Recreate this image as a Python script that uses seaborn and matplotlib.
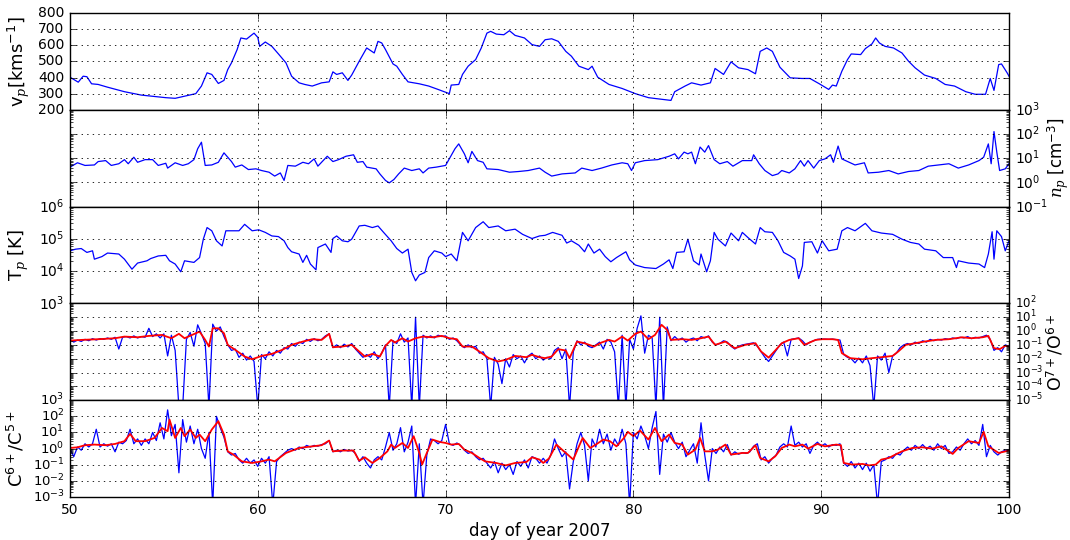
import numpy as np
import pandas as pd
import matplotlib
matplotlib.use("Agg")
import matplotlib.pyplot as plt
import seaborn as sns
from matplotlib.ticker import FixedLocator, LogLocator, NullFormatter, LogFormatterSciNotation

# ---------------- data ----------------
vp_day = [50.0, 50.44, 50.7, 50.9, 51.15, 51.5, 52.0, 52.9, 53.8, 55.1,
          55.6, 56.7, 57.0, 57.3, 57.55, 57.9, 58.2, 58.4, 58.6, 58.9,
          59.1, 59.4, 59.8, 60.0, 60.1, 60.4, 60.75, 61.1, 61.5, 61.8,
          62.2, 62.5, 62.9, 63.4, 63.8, 64.0, 64.2, 64.5, 64.8, 65.0,
          65.4, 65.6, 65.8, 66.2, 66.4, 66.6, 66.8, 67.2, 67.4, 67.7,
          68.0, 68.6, 69.1, 69.6, 70.2, 70.3, 70.7, 70.9, 71.2, 71.6,
          71.9, 72.2, 72.4, 72.7, 73.1, 73.4, 73.7, 74.2, 74.6, 75.0,
          75.3, 75.65, 76.0, 76.4, 76.7, 77.1, 77.6, 77.8, 78.1, 78.7,
          79.4, 80.1, 80.8, 81.5, 82.0, 82.2, 82.75, 83.1, 83.6, 84.1,
          84.35, 84.8, 85.2, 85.6, 86.1, 86.5, 86.75, 87.1, 87.4, 87.8,
          88.35, 88.97, 89.4, 89.9, 90.4, 90.6, 90.8, 91.1, 91.4, 91.6,
          92.1, 92.35, 92.7, 92.9, 93.1, 93.4, 93.85, 94.3, 94.65, 95.0,
          95.5, 96.1, 96.6, 97.1, 97.7, 98.2, 98.75, 99.0, 99.2, 99.45,
          99.6, 99.9, 100.0]
vp_kms = [402, 371, 408, 405, 361, 357, 340, 312, 291, 275,
          271, 300, 347, 429, 419, 363, 382, 449, 491, 573,
          645, 638, 675, 649, 593, 620, 593, 546, 491, 408,
          367, 357, 347, 367, 373, 435, 419, 429, 382, 415,
          501, 542, 583, 552, 624, 614, 573, 484, 470, 419,
          373, 361, 347, 326, 300, 353, 357, 419, 470, 511,
          583, 675, 686, 669, 665, 690, 661, 645, 604, 593,
          634, 640, 624, 562, 532, 470, 449, 470, 402, 357,
          332, 300, 275, 265, 258, 312, 347, 367, 353, 367,
          456, 419, 497, 460, 449, 423, 562, 583, 562, 464,
          398, 394, 394, 361, 326, 353, 347, 439, 511, 546,
          542, 579, 608, 645, 614, 593, 583, 552, 501, 460,
          415, 394, 357, 347, 312, 296, 296, 394, 320, 480,
          484, 429, 408]

np_day = [50.0, 50.4, 50.8, 51.3, 51.5, 51.9, 52.2, 52.6, 52.9, 53.1,
          53.4, 53.6, 54.0, 54.4, 54.7, 55.1, 55.2, 55.6, 56.0, 56.3,
          56.6, 56.8, 57.0, 57.2, 57.55, 57.9, 58.2, 58.4, 58.6, 58.8,
          59.15, 59.5, 59.9, 60.2, 60.6, 60.9, 61.2, 61.4, 61.6, 62.0,
          62.4, 62.7, 63.0, 63.2, 63.7, 64.0, 64.3, 64.7, 65.1, 65.3,
          65.6, 65.8, 66.3, 66.5, 66.8, 67.0, 67.25, 67.5, 67.8, 68.2,
          68.6, 68.8, 69.1, 69.5, 70.0, 70.3, 70.5, 70.7, 71.0, 71.2,
          71.4, 71.7, 72.0, 72.2, 72.8, 73.4, 73.9, 74.4, 75.0, 75.3,
          75.65, 76.2, 76.9, 77.25, 77.8, 78.3, 78.85, 79.4, 79.7, 79.9,
          80.1, 80.6, 81.3, 81.9, 82.2, 82.4, 82.7, 82.9, 83.1, 83.3,
          83.55, 83.8, 84.0, 84.3, 84.6, 85.0, 85.3, 85.8, 86.3, 86.4,
          86.7, 87.0, 87.4, 87.7, 87.9, 88.3, 88.6, 88.9, 89.1, 89.3,
          89.6, 89.9, 90.2, 90.5, 90.65, 90.9, 91.1, 91.5, 91.8, 92.3,
          92.5, 93.05, 93.6, 94.1, 94.65, 95.2, 95.7, 96.25, 96.8, 97.3,
          97.85, 98.4, 98.65, 98.9, 99.05, 99.2, 99.35, 99.5, 99.8, 100.0]
np_log10 = [0.63, 0.81, 0.70, 0.72, 0.86, 0.90, 0.70, 0.77, 0.94, 0.77,
            1.04, 0.83, 0.94, 0.94, 0.70, 0.79, 0.59, 0.81, 0.70, 0.77,
            0.94, 1.39, 1.66, 0.70, 0.72, 0.83, 1.22, 1.04, 0.86, 0.63,
            0.72, 0.53, 0.56, 0.49, 0.42, 0.26, 0.39, 0.08, 0.70, 0.67,
            0.83, 0.77, 0.97, 0.67, 1.08, 0.86, 0.94, 1.08, 1.14, 0.83,
            0.86, 0.63, 0.56, 0.35, 0.08, -0.02, 0.12, 0.35, 0.59, 0.49,
            0.56, 0.39, 0.59, 0.63, 0.70, 1.11, 1.39, 1.59, 1.18, 0.81,
            1.28, 0.90, 0.83, 0.56, 0.53, 0.42, 0.45, 0.49, 0.59, 0.42,
            0.26, 0.35, 0.39, 0.59, 0.49, 0.59, 0.72, 0.81, 0.77, 0.49,
            0.81, 0.90, 0.94, 1.08, 1.18, 0.97, 1.25, 1.18, 1.25, 0.77,
            1.46, 1.25, 1.52, 0.94, 0.77, 0.86, 0.67, 0.90, 0.90, 1.14,
            0.77, 0.49, 0.28, 0.35, 0.49, 0.39, 0.56, 0.90, 0.67, 0.90,
            0.59, 0.90, 0.97, 1.14, 0.83, 1.50, 0.97, 0.83, 0.72, 0.81,
            0.39, 0.42, 0.49, 0.35, 0.45, 0.49, 0.67, 0.72, 0.77, 0.59,
            0.72, 0.90, 1.04, 1.59, 0.77, 2.10, 1.25, 0.49, 0.56, 0.77]

tp_day = [50.0, 50.3, 50.6, 50.9, 51.2, 51.3, 51.7, 52.0, 52.6, 52.9,
          53.3, 53.6, 54.1, 54.3, 54.7, 55.1, 55.3, 55.6, 55.9, 56.1,
          56.6, 56.9, 57.1, 57.3, 57.55, 57.8, 58.1, 58.3, 58.6, 59.0,
          59.3, 59.7, 60.05, 60.4, 60.75, 61.1, 61.4, 61.6, 61.8, 62.2,
          62.4, 62.6, 62.8, 63.1, 63.2, 63.6, 63.9, 64.0, 64.2, 64.5,
          64.8, 65.0, 65.4, 65.7, 66.1, 66.4, 66.7, 67.1, 67.4, 67.7,
          68.0, 68.2, 68.4, 68.6, 68.9, 69.1, 69.4, 69.8, 70.0, 70.3,
          70.6, 70.9, 71.2, 71.6, 72.0, 72.3, 72.8, 73.2, 73.7, 74.1,
          74.6, 75.0, 75.3, 75.7, 76.2, 76.45, 76.7, 77.1, 77.4, 77.6,
          77.9, 78.2, 78.5, 78.8, 79.1, 79.6, 79.8, 80.1, 80.6, 81.2,
          81.6, 81.9, 82.1, 82.3, 82.7, 82.9, 83.2, 83.5, 83.6, 83.9,
          84.1, 84.3, 84.5, 84.9, 85.2, 85.6, 85.8, 86.1, 86.5, 86.75,
          87.0, 87.4, 87.7, 88.0, 88.35, 88.6, 88.8, 89.0, 89.1, 89.5,
          89.8, 90.05, 90.4, 90.85, 91.1, 91.4, 91.8, 92.35, 92.7, 93.2,
          93.8, 94.3, 94.75, 95.2, 95.5, 96.1, 96.5, 97.0, 97.2, 97.3,
          97.85, 98.4, 98.7, 98.9, 99.1, 99.2, 99.35, 99.6, 99.8, 100.0]
tp_log10 = [4.63, 4.68, 4.70, 4.58, 4.63, 4.37, 4.45, 4.56, 4.53, 4.37,
            4.06, 4.25, 4.32, 4.39, 4.47, 4.49, 4.32, 4.22, 3.98, 4.32,
            4.27, 4.42, 4.99, 5.35, 5.25, 4.94, 4.78, 5.25, 5.25, 5.25,
            5.45, 5.25, 5.28, 5.20, 5.09, 5.07, 4.94, 4.73, 4.60, 4.53,
            4.27, 4.49, 4.22, 4.04, 4.73, 4.84, 4.58, 5.01, 5.09, 4.94,
            4.91, 4.99, 5.40, 5.42, 5.35, 5.40, 5.20, 4.94, 4.70, 4.56,
            4.68, 3.96, 3.70, 3.88, 3.96, 4.42, 4.63, 4.56, 4.45, 4.53,
            4.32, 5.20, 4.94, 5.35, 5.53, 5.35, 5.40, 5.25, 5.30, 5.14,
            5.01, 5.09, 5.11, 5.20, 5.11, 4.87, 4.94, 4.80, 4.60, 4.84,
            4.56, 4.68, 4.45, 4.29, 4.42, 4.60, 4.35, 4.19, 4.11, 4.08,
            4.22, 4.35, 4.08, 4.58, 4.60, 4.99, 4.32, 4.19, 4.53, 3.98,
            4.32, 5.20, 4.99, 4.78, 5.18, 4.94, 5.20, 5.04, 4.84, 5.35,
            5.22, 5.20, 4.94, 4.58, 4.47, 4.37, 3.77, 4.16, 4.89, 4.91,
            4.56, 4.94, 4.63, 4.68, 5.25, 5.35, 5.25, 5.48, 5.25, 5.18,
            5.14, 4.99, 4.89, 4.84, 4.68, 4.63, 4.42, 4.42, 4.11, 4.32,
            4.25, 4.22, 4.11, 4.53, 5.22, 4.37, 5.25, 5.07, 4.63, 4.94]

# O7+/O6+ : raw (blue) sampled every 0.2 day from day 50, one row per day
o_raw_log10 = [
    -0.60, -0.80, -0.65, -0.75, -0.60,
    -0.70, -0.55, -0.65, -0.55, -0.60,
    -0.50, -0.60, -0.45, -1.30, -0.45,
    -0.40, -0.50, -0.35, -0.50, -0.40,
    -0.45, 0.20, -0.40, -0.20, -0.50,
    -0.20, -1.80, -0.30, -1.40, -5.50,
    -5.50, -0.60, -0.10, -1.10, 0.45,
    -0.20, -0.90, -5.50, 0.50, 0.00,
    0.30, -0.40, -1.00, -1.40, -1.30,
    -1.90, -1.60, -2.10, -1.80, -2.20,
    -5.50, -1.70, -2.00, -1.50, -1.80,
    -1.40, -1.60, -1.20, -1.30, -0.90,
    -1.10, -0.80, -0.90, -0.60, -0.75,
    -0.55, -0.70, -0.60, -0.35, -0.20,
    -1.20, -1.00, -1.20, -0.95, -1.15,
    -0.90, -1.30, -1.60, -1.90, -1.70,
    -1.90, -1.50, -2.00, -1.60, -1.00,
    -5.50, -0.70, -0.90, -0.20, -0.80,
    -0.50, -5.50, 1.00, -5.50, -0.30,
    -0.50, -0.35, -0.50, -0.30, -0.40,
    -0.35, -0.60, -0.50, -0.70, -1.00,
    -1.20, -1.00, -1.20, -1.10, -1.60,
    -1.50, -2.00, -5.50, -1.90, -2.40,
    -3.80, -2.00, -2.60, -1.70, -2.00,
    -1.80, -2.30, -1.80, -1.60, -2.00,
    -1.80, -2.10, -1.90, -2.00, -1.40,
    -1.20, -2.00, -1.30, -5.50, -1.50,
    -0.70, -1.00, -0.80, -1.10, -1.20,
    -1.00, -0.80, -1.30, -0.60, -0.80,
    -1.50, -5.50, -0.30, -5.50, -0.60,
    -1.30, 0.20, 1.10, -1.60, -0.30,
    -0.50, -5.50, 1.00, -5.50, 0.30,
    -0.70, -0.40, -0.65, -0.50, -0.80,
    -0.60, -0.50, -0.70, -0.40, -0.50,
    -0.35, -0.80, -1.00, -0.90, -0.70,
    -0.80, -1.10, -1.30, -1.10, -1.00,
    -0.95, -0.90, -0.85, -1.10, -1.50,
    -1.90, -2.20, -1.80, -1.40, -1.00,
    -0.80, -1.80, -0.60, -0.55, -0.50,
    -0.70, -1.00, -0.80, -0.70, -0.60,
    -0.58, -0.58, -0.60, -0.58, -0.62,
    -0.65, -1.70, -1.90, -2.00, -2.30,
    -1.95, -2.30, -1.80, -2.50, -5.50,
    -1.80, -2.10, -1.60, -3.00, -1.80,
    -1.60, -1.20, -1.00, -0.90, -1.00,
    -0.80, -0.90, -0.70, -0.80, -0.60,
    -0.70, -0.60, -0.65, -0.55, -0.60,
    -0.50, -0.55, -0.45, -0.50, -0.40,
    -0.55, -0.45, -0.50, -0.40, -0.30,
    -0.60, -1.40, -1.20, -1.50, -1.00,
    -1.10]

o_avg_day = [50.0, 50.6, 51.5, 52.4, 52.9, 53.6, 54.2, 54.9, 55.4, 55.8,
             56.1, 56.5, 56.9, 57.2, 57.4, 57.6, 57.9, 58.2, 58.4, 58.8,
             59.3, 59.7, 60.2, 60.75, 61.3, 61.8, 62.4, 62.9, 63.4, 63.8,
             64.0, 64.5, 65.0, 65.4, 65.7, 66.1, 66.5, 66.8, 67.1, 67.3,
             67.7, 68.0, 68.4, 68.8, 69.3, 69.8, 70.2, 70.6, 70.9, 71.4,
             71.8, 72.3, 72.8, 73.2, 73.7, 74.3, 74.6, 75.0, 75.3, 75.65,
             76.0, 76.4, 76.6, 77.0, 77.4, 77.9, 78.3, 78.7, 79.0, 79.4,
             79.7, 80.1, 80.4, 80.8, 81.15, 81.5, 81.8, 82.0, 82.6, 83.1,
             83.6, 84.0, 84.35, 84.9, 85.4, 85.95, 86.5, 86.8, 87.2, 87.55,
             87.9, 88.3, 88.8, 89.1, 89.7, 90.05, 90.6, 90.9, 91.1, 91.55,
             92.2, 92.7, 93.2, 93.8, 94.1, 94.5, 95.0, 95.5, 96.1, 96.8,
             97.5, 98.0, 98.6, 98.9, 99.2, 99.5, 99.8, 100.0]
o_avg_log10 = [-0.69, -0.64, -0.59, -0.52, -0.40, -0.45, -0.35, -0.28, -0.52, -0.20,
               -0.52, -0.28, -0.04, -0.64, -1.12, 0.20, 0.20, -0.16, -1.00, -1.36,
               -1.84, -2.04, -1.80, -1.65, -1.36, -1.00, -0.76, -0.59, -0.64, -0.20,
               -1.17, -1.12, -1.00, -1.48, -1.84, -1.65, -1.84, -1.07, -0.64, -0.83,
               -0.52, -0.76, -0.52, -0.40, -0.45, -0.35, -0.52, -0.59, -1.12, -1.12,
               -1.48, -1.96, -2.20, -2.08, -1.80, -1.89, -1.72, -1.89, -1.96, -1.84,
               -1.31, -1.41, -1.96, -0.76, -0.88, -1.12, -0.83, -0.64, -0.76, -0.40,
               -0.69, -0.20, -0.04, -0.59, -0.28, 0.45, 0.08, -0.64, -0.59, -0.64,
               -0.52, -0.40, -1.00, -0.76, -1.24, -1.00, -0.88, -1.48, -1.92, -1.41,
               -0.88, -0.64, -0.52, -1.00, -0.64, -0.59, -0.59, -0.64, -1.60, -1.96,
               -2.04, -1.96, -1.89, -1.80, -1.48, -1.00, -0.88, -0.76, -0.64, -0.59,
               -0.45, -0.52, -0.45, -0.35, -1.24, -1.31, -1.07, -1.12]

# C6+/C5+ : raw (blue) sampled every 0.2 day from day 50, one row per day
c_raw_log10 = [
    0.00, -0.50, 0.10, -0.10, 0.30,
    0.10, 0.30, 1.20, 0.10, 0.30,
    0.15, 0.30, -0.20, 0.40, 0.30,
    0.50, 1.20, 0.30, 0.60, 0.20,
    0.60, 0.30, 1.00, 0.50, 1.60,
    0.60, 2.40, 0.80, 1.50, -1.50,
    1.80, 0.40, 1.40, 0.30, 1.20,
    0.00, -0.60, 1.00, -3.50, 2.00,
    1.30, 0.70, -0.20, -0.40, -0.30,
    -0.70, -0.90, -0.60, -0.90, -0.70,
    -1.10, -0.60, -0.90, -0.50, -3.50,
    -0.80, -0.50, -0.30, -0.10, 0.00,
    -0.10, 0.10, 0.00, 0.20, 0.10,
    0.20, 0.15, 0.25, 0.30, 0.50,
    -0.20, -0.10, -0.20, -0.05, -0.15,
    -0.10, -0.30, -0.80, -0.50, -0.90,
    -1.20, -0.70, -0.50, -0.70, 0.10,
    1.00, -0.10, 0.30, 1.30, -0.20,
    0.40, 1.40, -3.50, 0.30, -3.50,
    -0.40, 0.60, 0.50, 0.30, 0.50,
    1.50, 0.30, 0.20, 0.35, 0.20,
    -0.10, -0.30, -0.20, -0.50, -0.70,
    -0.60, -0.90, -1.20, -0.80, -1.50,
    -0.90, -1.30, -1.00, -1.60, -0.80,
    -1.10, -0.70, -1.20, -0.50, -0.60,
    -0.90, -0.60, -0.90, -0.40, 0.60,
    0.00, -0.50, -0.20, -2.50, -0.80,
    0.30, 1.00, 0.20, -2.00, 0.60,
    0.10, 1.20, 0.30, 0.90, -0.10,
    0.60, 0.20, 1.20, 0.30, -3.50,
    1.00, 0.60, 1.40, 0.80, 0.00,
    1.30, 2.30, -1.60, 0.90, 0.40,
    1.00, 0.40, 0.00, 0.40, -0.50,
    -0.10, 0.30, -0.90, 1.60, -0.40,
    -2.00, 0.00, -0.30, 0.10, -0.20,
    0.25, -0.40, -0.20, -0.35, -0.25,
    -0.30, -0.20, 0.15, 0.30, -0.70,
    -0.50, -0.90, -0.60, -0.40, 0.10,
    0.30, 0.10, 1.40, 0.20, 0.40,
    0.10, 0.30, -0.30, 0.20, 0.40,
    0.15, 0.30, 0.10, 0.25, 0.20,
    0.30, -0.90, -1.10, -0.80, -1.20,
    -0.90, -1.30, -0.90, -1.40, -1.00,
    -3.50, -0.80, -0.70, -0.50, -0.60,
    -0.30, -0.40, -0.10, 0.10, -0.10,
    0.20, 0.00, 0.25, 0.00, 0.15,
    -0.10, 0.30, 0.00, 0.20, -0.30,
    -0.20, 0.10, -0.10, 0.30, 0.60,
    0.30, 0.50, 0.20, 1.50, -0.50,
    0.20, -0.20, -0.40, -0.20, -0.10,
    -0.10]

c_avg_day = [50.0, 50.4, 50.8, 51.3, 51.9, 52.4, 52.9, 53.2, 53.5, 54.0,
             54.5, 54.9, 55.2, 55.3, 55.6, 55.9, 56.1, 56.4, 56.7, 56.9,
             57.2, 57.55, 57.9, 58.2, 58.4, 58.7, 59.15, 59.7, 60.2, 60.6,
             60.9, 61.5, 62.2, 62.9, 63.4, 63.8, 64.0, 64.5, 65.1, 65.4,
             65.7, 66.1, 66.5, 66.9, 67.1, 67.3, 67.7, 68.0, 68.3, 68.6,
             68.75, 69.0, 69.3, 69.7, 70.0, 70.3, 70.7, 71.0, 71.4, 71.8,
             72.1, 72.7, 73.2, 73.7, 74.3, 74.6, 75.0, 75.2, 75.5, 75.9,
             76.3, 76.5, 76.8, 77.1, 77.3, 77.7, 78.0, 78.4, 78.75, 79.1,
             79.5, 79.7, 80.0, 80.35, 80.8, 81.15, 81.5, 81.9, 82.2, 82.6,
             82.9, 83.3, 83.55, 83.8, 84.2, 84.5, 84.9, 85.2, 85.8, 86.1,
             86.5, 86.75, 87.2, 87.55, 87.9, 88.3, 88.6, 89.0, 89.3, 89.8,
             90.2, 90.8, 91.05, 91.2, 91.65, 92.2, 92.55, 92.9, 93.2, 93.6,
             93.95, 94.3, 94.85, 95.4, 95.9, 96.4, 97.0, 97.3, 97.85, 98.4,
             98.65, 98.9, 99.45, 100.0]
c_avg_log10 = [0.04, 0.08, 0.21, 0.25, 0.21, 0.29, 0.46, 0.91, 0.46, 0.46,
               0.66, 1.28, 1.08, 1.80, 0.66, 1.28, 0.77, 1.18, 0.66, 0.87,
               0.46, 1.18, 1.70, 0.87, -0.17, -0.37, -0.79, -0.89, -0.79, -0.68,
               -0.79, -0.27, 0.04, 0.14, 0.21, 0.50, -0.17, -0.12, -0.12, -0.75,
               -0.54, -0.89, -0.58, -0.17, 0.25, 0.04, 0.35, 0.04, 0.77, -0.27,
               -0.99, -0.27, 0.56, 0.41, 0.35, 0.25, 0.29, -0.06, -0.27, -0.58,
               -0.79, -0.89, -1.04, -0.89, -0.83, -0.54, -0.68, -0.89, -0.62, 0.25,
               -0.17, -0.37, -0.68, 0.14, 0.66, 0.04, 0.25, 0.56, 0.46, 0.14,
               0.66, 1.04, 0.77, 1.12, 0.56, 1.28, 0.46, 0.87, 0.35, 0.25,
               -0.37, -0.06, 0.66, -0.17, -0.17, -0.06, 0.25, -0.37, -0.27, -0.27,
               0.21, -0.58, -0.79, -0.48, 0.04, 0.25, 0.14, 0.25, 0.00, 0.29,
               0.14, 0.25, 0.21, -0.89, -0.99, -0.95, -1.04, -0.99, -0.68, -0.58,
               -0.37, -0.17, 0.04, 0.08, 0.00, 0.14, -0.33, 0.04, 0.46, 0.35,
               1.04, 0.14, -0.27, -0.12]

x_ticks = [50, 60, 70, 80, 90, 100]
raw_start_day, raw_step_day = 50.0, 0.2

# ---------------- style ----------------
plt.style.use("classic")
plt.rcParams.update({
    "figure.facecolor": "white",
    "savefig.facecolor": "white",
    "font.family": ["DejaVu Sans"],
    "font.size": 10,
    "xtick.labelsize": 10,
    "ytick.labelsize": 10,
    "axes.labelsize": 13,
    "mathtext.fontset": "custom",
    "mathtext.rm": "DejaVu Sans",
    "mathtext.it": "DejaVu Serif:italic",
    "mathtext.bf": "DejaVu Sans:bold",
    "lines.linewidth": 1.0,
})

fig, axes = plt.subplots(5, 1, sharex=True, figsize=(10.7, 5.4), dpi=100)
fig.subplots_adjust(left=0.0654, right=0.943, top=0.976, bottom=0.0796, hspace=0)

raw_days = raw_start_day + raw_step_day * np.arange(len(o_raw_log10))
raw_days_c = raw_start_day + raw_step_day * np.arange(len(c_raw_log10))

def line(ax, x, y, color, lw=0.9):
    df = pd.DataFrame({"x": np.asarray(x, float), "y": np.asarray(y, float)})
    sns.lineplot(data=df, x="x", y="y", ax=ax, color=color, linewidth=lw,
                 estimator=None, sort=False, legend=False)

def log_axis(ax, lo, hi, size):
    ax.set_yscale("log")
    ax.set_ylim(10.0 ** lo, 10.0 ** hi)
    ax.yaxis.set_major_locator(FixedLocator([10.0 ** e for e in range(lo, hi + 1)]))
    ax.yaxis.set_major_formatter(LogFormatterSciNotation())
    ax.yaxis.set_minor_locator(LogLocator(base=10, subs=np.arange(2, 10), numticks=50))
    ax.yaxis.set_minor_formatter(NullFormatter())
    ax.tick_params(axis="y", which="major", labelsize=size)

# panel 1: v_p
ax = axes[0]
line(ax, vp_day, vp_kms, "b")
ax.set_ylim(200, 800)
ax.set_yticks(range(200, 801, 100))
ax.set_ylabel(r"v$_p$[kms$^{-1}$]", labelpad=4)

# panel 2: n_p
ax = axes[1]
line(ax, np_day, 10.0 ** np.array(np_log10), "b")
log_axis(ax, -1, 3, 10)
ax.yaxis.set_label_position("right")
ax.tick_params(axis="y", which="both", labelleft=False, labelright=True)
ax.set_ylabel(r"$n_p$ [cm$^{-3}$]", fontsize=12)
ax.yaxis.set_label_coords(1.039, 0.5)

# panel 3: T_p
ax = axes[2]
line(ax, tp_day, 10.0 ** np.array(tp_log10), "b")
log_axis(ax, 3, 6, 10)
ax.set_ylabel(r"T$_p$ [K]", labelpad=6)

# panel 4: O7+/O6+
ax = axes[3]
line(ax, raw_days, 10.0 ** np.array(o_raw_log10), "b")
line(ax, o_avg_day, 10.0 ** np.array(o_avg_log10), "r", lw=1.3)
log_axis(ax, -5, 2, 8.5)
ax.yaxis.set_label_position("right")
ax.tick_params(axis="y", which="both", labelleft=False, labelright=True)
ax.set_ylabel(r"O$^{7+}$/O$^{6+}$", fontsize=12.5)
ax.yaxis.set_label_coords(1.038, 0.5)

# panel 5: C6+/C5+
ax = axes[4]
line(ax, raw_days_c, 10.0 ** np.array(c_raw_log10), "b")
line(ax, c_avg_day, 10.0 ** np.array(c_avg_log10), "r", lw=1.3)
log_axis(ax, -3, 3, 9.5)
ax.set_ylabel(r"C$^{6+}$/C$^{5+}$", labelpad=4)

for ax in axes:
    ax.set_xlim(50, 100)
    ax.set_xticks(x_ticks)
    ax.grid(True, which="major", linestyle=":", color="k", linewidth=0.6)
    ax.tick_params(which="both", direction="in", top=True, right=True)
    ax.set_xlabel("")
axes[-1].set_xlabel("day of year 2007", fontsize=12, labelpad=4)
for ax in axes[:-1]:
    ax.tick_params(axis="x", labelbottom=False)

fig.savefig("out.png", dpi=100, facecolor="white")
